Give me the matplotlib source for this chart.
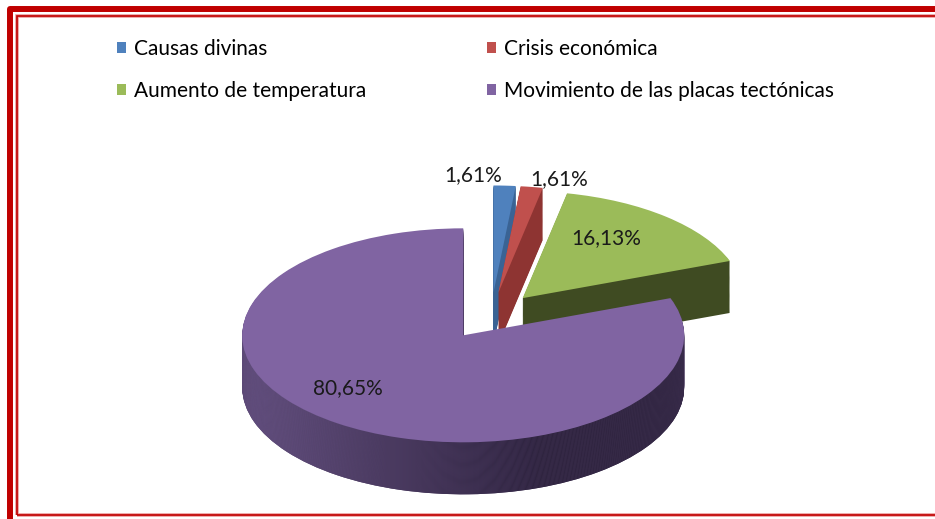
import matplotlib.pyplot as plt
import numpy as np
from matplotlib.patches import Patch, Rectangle
from matplotlib.colors import LinearSegmentedColormap

# Datos
categorias = ['Causas divinas', 'Crisis económica', 'Aumento de temperatura',
              'Movimiento de las placas tectónicas']
porcentajes = [1.61, 1.61, 16.13, 80.65]
etiquetas = ['1,61%', '1,61%', '16,13%', '80,65%']

colores = ['#4F81BD', '#C0504D', '#9BBB59', '#8064A2']
colores_lado = ['#3a6394', '#8e3432', '#3f4b22', '#4a3a5f']

plt.rcParams['font.family'] = ['Lato', 'DejaVu Sans']

W, H = 935, 519
fig = plt.figure(figsize=(W / 100, H / 100), dpi=100)
ax = fig.add_axes([0, 0, 1, 1])
ax.axis('off')

# geometria del "pastel 3D" (pixeles por unidad)
sx, sy = 221, 107
cx, cy = 491, 316
prof = 52 / sy
explode = [0.22] * 4

frac = np.array(porcentajes) / sum(porcentajes)
ini = np.concatenate([[0], np.cumsum(frac)[:-1]])
bis = np.radians(90 - 360 * (ini + frac / 2))

cmap_lado = LinearSegmentedColormap.from_list(
    'lado', ['#6b5689', '#4b3b61', '#2f2440', '#30253f'], N=256)
grad = np.linspace(0, 1, 256).reshape(1, -1)
px0 = explode[3] * np.cos(bis[3])

# paredes laterales: pasteles apilados
n = 55
for k in range(n, 0, -1):
    dy = -prof * k / n
    wedges, _ = ax.pie(porcentajes, explode=explode, colors=colores_lado,
                       startangle=90, counterclock=False, center=(0, dy),
                       wedgeprops=dict(linewidth=0))
    im = ax.imshow(grad, extent=(px0 - 1, px0 + 1, dy - 1.5, dy + 0.5),
                   cmap=cmap_lado, aspect='auto', zorder=1)
    im.set_clip_path(wedges[3])

# cara superior
ax.pie(porcentajes, explode=explode, colors=colores, startangle=90,
       counterclock=False, center=(0, 0), wedgeprops=dict(linewidth=0))

# etiquetas de porcentaje
label_r = [1.1, 1.1, 0.68, 0.72]
label_giro = [7.7, -5.7, 6.8, -11.6]
for i, txt in enumerate(etiquetas):
    vx = explode[i] * np.cos(bis[i])
    vy = explode[i] * np.sin(bis[i])
    a = bis[i] + np.radians(label_giro[i])
    ax.text(vx + label_r[i] * np.cos(a), vy + label_r[i] * np.sin(a), txt,
            ha='center', va='center', fontsize=15, color='#1a1a1a', zorder=5)

ax.set_aspect('auto')
ax.set_xlim(-cx / sx, (W - cx) / sx)
ax.set_ylim(-(H - cy) / sy, cy / sy)

# leyenda
orden = [0, 2, 1, 3]
handles = [Patch(facecolor=colores[i], edgecolor='none', label=categorias[i])
           for i in orden]
fig.legend(handles=handles, ncol=2, loc='upper left',
           bbox_to_anchor=(98 / W, 1 - 20 / H), frameon=False,
           fontsize=15, handlelength=0.45, handleheight=0.45,
           handletextpad=0.4, columnspacing=5.75, labelspacing=1.05)

# marco rojo
fig.patches.append(Rectangle((10 / W, -0.05), 1.2, 1.05 - 9 / H,
                             transform=fig.transFigure, fill=False,
                             edgecolor='#c00000', linewidth=4.3,
                             joinstyle='round'))
fig.patches.append(Rectangle((17 / W, (H - 515) / H), 1.2, (515 - 16) / H,
                             transform=fig.transFigure, fill=False,
                             edgecolor='#ec9a9a', linewidth=2.6))
fig.patches.append(Rectangle((17 / W, (H - 515) / H), 1.2, (515 - 16) / H,
                             transform=fig.transFigure, fill=False,
                             edgecolor='#c00000', linewidth=1.2))

fig.savefig('out.png', dpi=100)
